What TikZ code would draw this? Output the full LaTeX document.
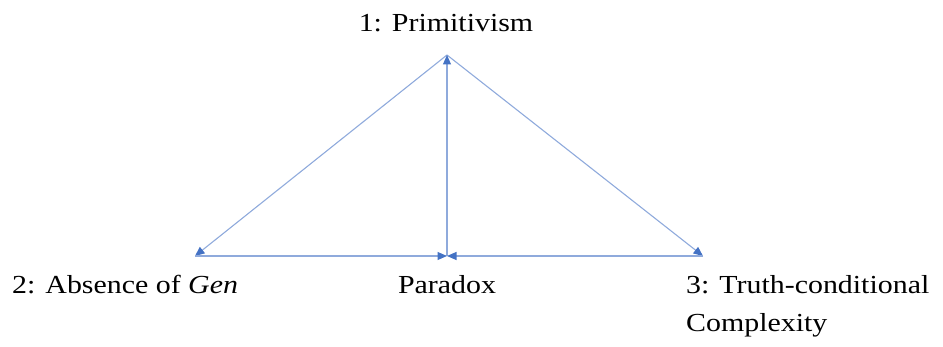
\documentclass[tikz,border=0pt]{standalone}
\usepackage{fontspec}
\setmainfont{Liberation Serif}[FakeStretch=1.15]
\usetikzlibrary{arrows.meta}
\definecolor{lineblue}{HTML}{8FAADC}
\definecolor{headblue}{HTML}{4472C4}
\begin{document}
\begin{tikzpicture}[x=1pt,y=-1pt,
  conn/.style={draw=lineblue,line width=1.1pt,-{Triangle[length=9.5pt,width=8pt,fill=headblue,color=headblue]}},
  lbl/.style={font=\fontsize{26}{38}\selectfont,inner sep=0pt,text=black}]
\useasboundingbox (0,0) rectangle (943,347);
\coordinate (top) at (447,55);
\coordinate (left) at (195,256);
\coordinate (right) at (703,256);
\coordinate (mid) at (447,256);
\draw[conn] (top) -- (left);
\draw[conn] (top) -- (right);
\draw[conn] (mid) -- (top);
\draw[conn] (left) -- (mid);
\draw[conn] (right) -- (mid);
\node[lbl,anchor=base] (t1) at (446,32) {1: Primitivism};
\node[lbl,anchor=base west] (t2) at (12,294) {2: Absence of \textit{Gen}};
\node[lbl,anchor=base] (t3) at (447,294) {Paradox};
\node[lbl,anchor=base west] (t4) at (686,294) {3: Truth-conditional};
\node[lbl,anchor=base west] (t5) at (686,332) {Complexity};
\end{tikzpicture}
\end{document}
